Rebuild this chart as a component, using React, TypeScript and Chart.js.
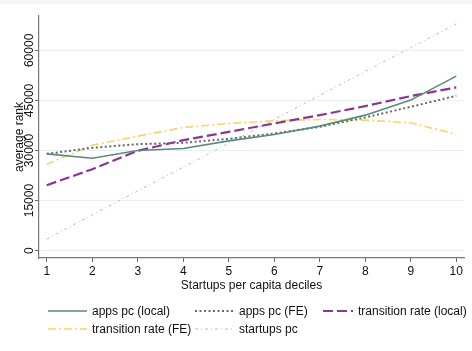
import React, { useEffect, useRef } from "react";
import { Chart, registerables } from "chart.js";

Chart.register(...registerables);

const deciles = [1, 2, 3, 4, 5, 6, 7, 8, 9, 10];
const appsLocal = [29000, 27700, 30000, 30600, 32900, 34800, 37300, 40600, 45100, 52300];
const appsFE = [29000, 30800, 31900, 32300, 33500, 35100, 37100, 39900, 43100, 46400];
const transLocal = [19600, 24400, 29900, 33100, 35600, 38100, 40600, 43300, 46300, 48900];
const transFE = [25900, 31600, 34300, 36900, 38100, 38900, 39300, 39100, 38300, 34900];
const startupsPc = [3500, 10700, 17900, 25000, 32200, 39300, 46500, 53700, 60800, 68000];

const yTicks = [0, 15000, 30000, 45000, 60000];
const xTicks = [1, 2, 3, 4, 5, 6, 7, 8, 9, 10];

const FONT = "12px 'Liberation Sans', Arial, Helvetica, sans-serif";

const seriesDefs = [
  { label: "apps pc (local)", data: appsLocal, color: "rgb(90,138,126)", width: 1.6, dash: [] as number[] },
  { label: "apps pc (FE)", data: appsFE, color: "rgb(105,105,105)", width: 2, dash: [2, 2.5] },
  { label: "transition rate (local)", data: transLocal, color: "rgb(142,52,148)", width: 2.2, dash: [10, 4] },
  { label: "transition rate (FE)", data: transFE, color: "rgb(250,213,95)", width: 1.6, dash: [8, 3, 2, 3] },
  { label: "startups pc", data: startupsPc, color: "rgb(190,190,190)", width: 1, dash: [3, 3, 1, 3] },
];

const legendPos = [
  { x0: 48, x1: 87, tx: 92, y: 311 },
  { x0: 195, x1: 233, tx: 239, y: 311 },
  { x0: 323, x1: 353, tx: 358, y: 311 },
  { x0: 48, x1: 87, tx: 92, y: 329 },
  { x0: 195, x1: 233, tx: 239, y: 329 },
];

const decorPlugin = {
  id: "decor",
  beforeDraw(chart: any) {
    const ctx = chart.ctx;
    ctx.save();
    ctx.fillStyle = "#ffffff";
    ctx.fillRect(0, 0, chart.width, chart.height);
    ctx.fillStyle = "#f6f6f6";
    ctx.fillRect(0, 0, chart.width, 4);
    ctx.restore();
  },
  afterDraw(chart: any) {
    const ctx = chart.ctx;
    const ys = chart.scales.y;
    const xs = chart.scales.x;
    const area = chart.chartArea;
    ctx.save();
    ctx.fillStyle = "#111";
    ctx.font = FONT;
    // y tick labels (rotated)
    yTicks.forEach((v) => {
      const py = ys.getPixelForValue(v);
      ctx.save();
      ctx.translate(33, py);
      ctx.rotate(-Math.PI / 2);
      ctx.textAlign = "center";
      ctx.textBaseline = "alphabetic";
      ctx.fillText(String(v), 0, 0);
      ctx.restore();
    });
    // y title
    ctx.save();
    ctx.translate(23, (area.top + area.bottom) / 2);
    ctx.rotate(-Math.PI / 2);
    ctx.textAlign = "center";
    ctx.textBaseline = "alphabetic";
    ctx.fillText("average rank", 0, 0);
    ctx.restore();
    // x tick labels
    ctx.textAlign = "center";
    ctx.textBaseline = "alphabetic";
    xTicks.forEach((v) => {
      ctx.fillText(String(v), xs.getPixelForValue(v), 275);
    });
    // x title
    ctx.fillText("Startups per capita deciles", (area.left + area.right) / 2, 289);
    // legend
    seriesDefs.forEach((s, i) => {
      const p = legendPos[i];
      ctx.save();
      ctx.strokeStyle = s.color;
      ctx.lineWidth = s.width;
      ctx.setLineDash(s.dash);
      ctx.beginPath();
      ctx.moveTo(p.x0, p.y);
      ctx.lineTo(p.x1, p.y);
      ctx.stroke();
      ctx.restore();
      ctx.textAlign = "left";
      ctx.textBaseline = "alphabetic";
      ctx.fillText(s.label, p.tx, p.y + 4);
    });
    ctx.restore();
  },
};

export default function App() {
  const ref = useRef<HTMLCanvasElement>(null);
  useEffect(() => {
    if (!ref.current) return;
    const chart = new Chart(ref.current, {
      type: "line",
      data: {
        datasets: seriesDefs.map((s) => ({
          label: s.label,
          data: deciles.map((d, i) => ({ x: d, y: s.data[i] })),
          borderColor: s.color,
          borderWidth: s.width,
          borderDash: s.dash,
          pointRadius: 0,
          fill: false,
          tension: 0,
        })),
      },
      options: {
        responsive: false,
        animation: false,
        layout: { padding: { left: 35, right: 8, top: 16, bottom: 89 } },
        plugins: { legend: { display: false }, tooltip: { enabled: false } },
        scales: {
          x: {
            type: "linear",
            min: 0.83,
            max: 10.17,
            afterBuildTicks: (scale: any) => {
              scale.ticks = xTicks.map((v) => ({ value: v }));
            },
            afterFit: (scale: any) => {
              scale.height = 4;
            },
            ticks: { display: false },
            grid: { drawOnChartArea: false, drawTicks: true, tickLength: 4, tickColor: "#666", tickWidth: 1 },
            border: { display: true, color: "#777", width: 1.2 },
          },
          y: {
            type: "linear",
            min: -2200,
            max: 70300,
            afterBuildTicks: (scale: any) => {
              scale.ticks = yTicks.map((v) => ({ value: v }));
            },
            afterFit: (scale: any) => {
              scale.width = 4;
            },
            ticks: { display: false },
            grid: { color: "#e8f1f2", lineWidth: 1, drawTicks: true, tickLength: 4, tickColor: "#666", tickWidth: 1 },
            border: { display: true, color: "#777", width: 1.2 },
          },
        },
      },
      plugins: [decorPlugin],
    } as any);
    return () => chart.destroy();
  }, []);
  return (
    <div style={{ position: "absolute", left: 0, top: 0, width: 472, height: 351, background: "#fff" }}>
      <canvas ref={ref} width={472} height={351} style={{ display: "block", width: 472, height: 351 }} />
    </div>
  );
}
